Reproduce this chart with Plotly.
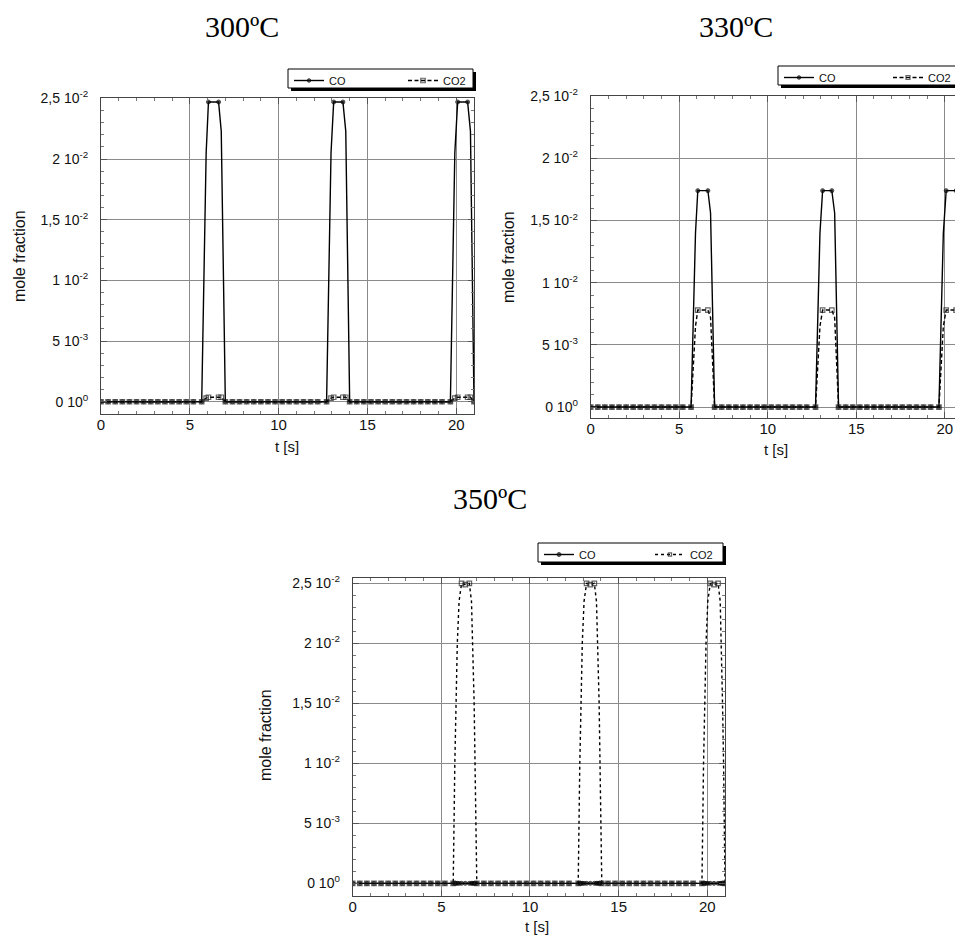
import plotly.graph_objects as go

# page offset of the figure inside the browser body (default 8px body margin)
OFF = 8
FW, FH = 963 - OFF, 936 - OFF

# ---------------- data ----------------
# time samples for the 300 and 330 degC panels
t_a = [0.0, 0.4, 0.8, 1.2, 1.6, 2.0, 2.4, 2.8, 3.2, 3.6, 4.0, 4.4, 4.8, 5.2,
       5.67, 5.92, 6.05, 6.62, 6.77, 7.0,
       7.4, 7.8, 8.2, 8.6, 9.0, 9.4, 9.8, 10.2, 10.6, 11.0, 11.4, 11.8, 12.2,
       12.7, 12.95, 13.1, 13.62, 13.78, 14.0,
       14.4, 14.8, 15.2, 15.6, 16.0, 16.4, 16.8, 17.2, 17.6, 18.0, 18.4, 18.8, 19.2,
       19.67, 19.92, 20.08, 20.64, 20.8, 21.0]

co_300 = [0, 0, 0, 0, 0, 0, 0, 0, 0, 0, 0, 0, 0, 0,
          0, 0.0205, 0.0247, 0.0247, 0.0223, 0,
          0, 0, 0, 0, 0, 0, 0, 0, 0, 0, 0, 0, 0,
          0, 0.0205, 0.0247, 0.0247, 0.0223, 0,
          0, 0, 0, 0, 0, 0, 0, 0, 0, 0, 0, 0, 0,
          0, 0.0205, 0.0247, 0.0247, 0.0223, 0]
co2_300 = [0, 0, 0, 0, 0, 0, 0, 0, 0, 0, 0, 0, 0, 0,
           0, 0.0003, 0.00037, 0.00037, 0.00037, 0,
           0, 0, 0, 0, 0, 0, 0, 0, 0, 0, 0, 0, 0,
           0, 0.0003, 0.00037, 0.00037, 0.00037, 0,
           0, 0, 0, 0, 0, 0, 0, 0, 0, 0, 0, 0, 0,
           0, 0.0003, 0.00037, 0.00037, 0.00037, 0]

co_330 = [0, 0, 0, 0, 0, 0, 0, 0, 0, 0, 0, 0, 0, 0,
          0, 0.014, 0.0174, 0.0174, 0.0156, 0,
          0, 0, 0, 0, 0, 0, 0, 0, 0, 0, 0, 0, 0,
          0, 0.014, 0.0174, 0.0174, 0.0156, 0,
          0, 0, 0, 0, 0, 0, 0, 0, 0, 0, 0, 0, 0,
          0, 0.014, 0.0174, 0.0174, 0.0156, 0]
co2_330 = [0, 0, 0, 0, 0, 0, 0, 0, 0, 0, 0, 0, 0, 0,
           0, 0.0065, 0.0078, 0.0078, 0.0072, 0,
           0, 0, 0, 0, 0, 0, 0, 0, 0, 0, 0, 0, 0,
           0, 0.0065, 0.0078, 0.0078, 0.0072, 0,
           0, 0, 0, 0, 0, 0, 0, 0, 0, 0, 0, 0, 0,
           0, 0.0065, 0.0078, 0.0078, 0.0072, 0]

# time samples for the 350 degC panel
t_b = [0.0, 0.4, 0.8, 1.2, 1.6, 2.0, 2.4, 2.8, 3.2, 3.6, 4.0, 4.4, 4.8, 5.2,
       5.67, 5.76, 5.82, 5.90, 6.00, 6.14, 6.35, 6.58, 6.70, 6.77, 6.85, 6.90, 7.00,
       7.4, 7.8, 8.2, 8.6, 9.0, 9.4, 9.8, 10.2, 10.6, 11.0, 11.4, 11.8, 12.2,
       12.72, 12.81, 12.87, 12.95, 13.05, 13.19, 13.40, 13.63, 13.75, 13.82, 13.90, 13.95, 14.05,
       14.4, 14.8, 15.2, 15.6, 16.0, 16.4, 16.8, 17.2, 17.6, 18.0, 18.4, 18.8, 19.2,
       19.70, 19.79, 19.85, 19.93, 20.03, 20.17, 20.38, 20.61, 20.73, 20.80, 20.86, 20.92, 21.0]
co_350 = [0, 0, 0, 0, 0, 0, 0, 0, 0, 0, 0, 0, 0, 0,
          0, 0, 0, 0, 0, 0, 0, 0, 0, 0, 0, 0, 0,
          0, 0, 0, 0, 0, 0, 0, 0, 0, 0, 0, 0, 0,
          0, 0, 0, 0, 0, 0, 0, 0, 0, 0, 0, 0, 0,
          0, 0, 0, 0, 0, 0, 0, 0, 0, 0, 0, 0, 0,
          0, 0, 0, 0, 0, 0, 0, 0, 0, 0, 0, 0, 0]
co2_350 = [0, 0, 0, 0, 0, 0, 0, 0, 0, 0, 0, 0, 0, 0,
           0, 0.010, 0.015, 0.020, 0.0235, 0.0250, 0.0249, 0.0250, 0.0235, 0.020, 0.015, 0.010, 0,
           0, 0, 0, 0, 0, 0, 0, 0, 0, 0, 0, 0, 0,
           0, 0.010, 0.015, 0.020, 0.0235, 0.0250, 0.0249, 0.0250, 0.0235, 0.020, 0.015, 0.010, 0,
           0, 0, 0, 0, 0, 0, 0, 0, 0, 0, 0, 0, 0,
           0, 0.010, 0.015, 0.020, 0.0235, 0.0250, 0.0249, 0.0250, 0.0235, 0.020, 0.015, 0.010, 0]

panel_titles = ["300ºC", "330ºC", "350ºC"]
series_names = ["CO", "CO2"]
y_tickvals = [0, 0.005, 0.01, 0.015, 0.02, 0.025]
y_ticktext = ["0 10<sup>0</sup>", "5 10<sup>-3</sup>", "1 10<sup>-2</sup>",
              "1,5 10<sup>-2</sup>", "2 10<sup>-2</sup>", "2,5 10<sup>-2</sup>"]
x_tickvals = [0, 5, 10, 15, 20]


# ---------------- helpers (page pixel -> paper fraction) ----------------
def fx(px):
    return (px - OFF) / FW


def fy(py):
    return 1 - (py - OFF) / FH


def marker_sizes(vals, size):
    # markers are only visible on the baseline and on the plateau of each pulse
    top = max(vals)
    return [size if (v == 0 or v >= top - 0.0002) else 0 for v in vals]


SANS = "Liberation Sans, Arial, sans-serif"
SERIF = "Liberation Serif, Times New Roman, serif"

fig = go.Figure()

panels = [
    dict(t=t_a, co=co_300, co2=co2_300, xa="x", ya="y", leg="legend", dash="4px,2.5px"),
    dict(t=t_a, co=co_330, co2=co2_330, xa="x2", ya="y2", leg="legend2", dash="4px,2.5px"),
    dict(t=t_b, co=co_350, co2=co2_350, xa="x3", ya="y3", leg="legend3", dash="3px,3px"),
]

for p in panels:
    fig.add_trace(go.Scatter(
        x=p["t"], y=p["co"], name=series_names[0], mode="lines+markers",
        line=dict(color="black", width=1.4),
        marker=dict(symbol="circle", size=marker_sizes(p["co"], 4), color="#111"),
        xaxis=p["xa"], yaxis=p["ya"], legend=p["leg"]))
    fig.add_trace(go.Scatter(
        x=p["t"], y=p["co2"], name=series_names[1], mode="lines+markers",
        line=dict(color="black", width=1.4, dash=p["dash"]),
        marker=dict(symbol="square-open", size=marker_sizes(p["co2"], 4.5), color="#222",
                    line=dict(width=1.2)),
        xaxis=p["xa"], yaxis=p["ya"], legend=p["leg"]))

# panel geometry (page pixels); the 330 degC panel runs past the right edge of the page
geo = [
    dict(l=101, r=474, top=97.5, bot=414, xr=[0, 21], yr=[-0.00101, 0.02507]),
    dict(l=590.7, r=963, top=95.5, bot=418, xr=[0, 21.03], yr=[-0.00088, 0.02505]),
    dict(l=352.7, r=725, top=577.7, bot=895.7, xr=[0, 21], yr=[-0.00103, 0.02547]),
]

axis_common = dict(
    showline=True, linecolor="#444", linewidth=1, mirror="allticks",
    showgrid=True, gridcolor="#8a8a8a", gridwidth=1, zeroline=False,
    ticks="inside", ticklen=6, tickcolor="#555", tickwidth=1,
    tickfont=dict(family=SANS, size=15, color="#111"),
    automargin=False,
)

for i, g in enumerate(geo):
    sx = "" if i == 0 else str(i + 1)
    fig.update_layout(**{
        "xaxis" + sx: dict(
            axis_common,
            domain=[fx(g["l"]), min(1.0, fx(g["r"]))], range=g["xr"],
            anchor="y" + sx, tickvals=x_tickvals,
            ticklabelstandoff=-3,
            minor=dict(ticks="inside", ticklen=3, dtick=1, tickcolor="#777", showgrid=False),
        ),
        "yaxis" + sx: dict(
            axis_common,
            domain=[fy(g["bot"]), fy(g["top"])], range=g["yr"],
            anchor="x" + sx, tickvals=y_tickvals, ticktext=y_ticktext,
            ticklabelstandoff=9,
            tickfont=dict(family=SANS, size=14, color="#111"),
            minor=dict(ticks="inside", ticklen=3, dtick=0.001, tickcolor="#777", showgrid=False),
        ),
    })

# legends (boxes with drop shadow)
leg_boxes = [
    dict(x0=288, x1=473, y0=69, y1=88, ew=69),
    dict(x0=778, x1=990, y0=66, y1=85, ew=64),
    dict(x0=538, x1=723, y0=543, y1=562, ew=66),
]
shapes = []
for b in leg_boxes:
    shapes.append(dict(type="rect", xref="paper", yref="paper",
                       x0=fx(b["x0"] + 3), x1=fx(b["x1"] + 3),
                       y0=fy(b["y1"] + 3), y1=fy(b["y0"] + 3),
                       fillcolor="black", line=dict(width=0), layer="above"))
    shapes.append(dict(type="rect", xref="paper", yref="paper",
                       x0=fx(b["x0"]), x1=fx(b["x1"]),
                       y0=fy(b["y1"]), y1=fy(b["y0"]),
                       fillcolor="white", line=dict(color="black", width=1), layer="above"))

leg_style = dict(orientation="h", bgcolor="rgba(0,0,0,0)", borderwidth=0,
                 font=dict(family=SANS, size=11, color="#111"),
                 entrywidthmode="pixels",
                 xanchor="left", yanchor="top", xref="paper", yref="paper",
                 itemclick=False, itemdoubleclick=False)
legs = {}
for i, b in enumerate(leg_boxes):
    key = "legend" if i == 0 else "legend" + str(i + 1)
    legs[key] = dict(leg_style, entrywidth=b["ew"], x=fx(b["x0"] + 1), y=fy(b["y0"] - 3))

annotations = []
for txt, cx, cy in zip(panel_titles, [242, 736, 490], [27, 27, 498]):
    annotations.append(dict(text=txt, x=fx(cx), y=fy(cy), xref="paper", yref="paper",
                            showarrow=False, xanchor="center", yanchor="middle",
                            font=dict(family=SERIF, size=30, color="black")))
for cx, cy in [(287, 446), (776, 450), (537, 926)]:
    annotations.append(dict(text="t [s]", x=fx(cx), y=fy(cy), xref="paper", yref="paper",
                            showarrow=False, xanchor="center", yanchor="middle",
                            font=dict(family=SANS, size=15, color="#111")))
for cx, cy in [(20, 256), (509, 257), (265, 735)]:
    annotations.append(dict(text="mole fraction", x=fx(cx), y=fy(cy), xref="paper", yref="paper",
                            showarrow=False, xanchor="center", yanchor="middle", textangle=-90,
                            font=dict(family=SANS, size=16, color="#111")))

fig.update_layout(
    width=FW, height=FH,
    margin=dict(l=0, r=0, t=0, b=0, autoexpand=False),
    paper_bgcolor="white", plot_bgcolor="white",
    showlegend=True,
    shapes=shapes,
    annotations=annotations,
    **legs,
)

fig.write_html("out.html")
